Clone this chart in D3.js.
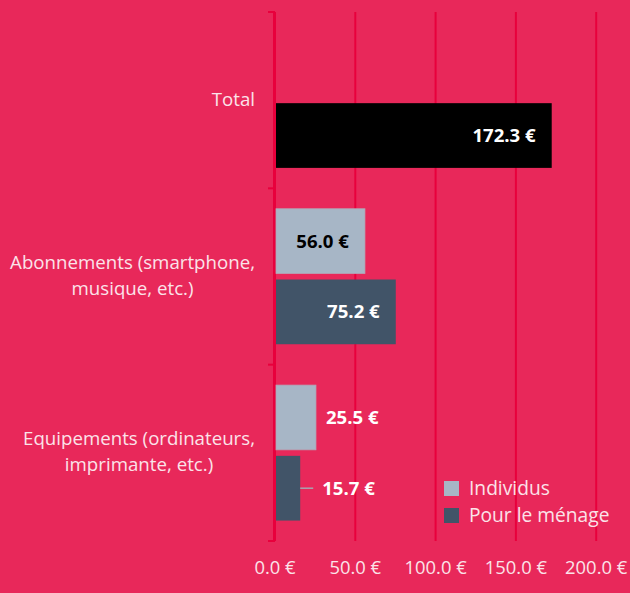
<!DOCTYPE html>
<html><head><meta charset="utf-8">
<script src="https://cdn.jsdelivr.net/npm/d3@7"></script>
<style>
html,body{margin:0;padding:0;background:#E8285A;}
svg{display:block;font-family:"Open Sans",sans-serif;}
</style></head>
<body>
<svg id="chart" width="630" height="593"></svg>
<script>
const categories = ["Total", "Abonnements (smartphone,|musique, etc.)", "Equipements (ordinateurs,|imprimante, etc.)"];
const seriesNames = ["Individus", "Pour le ménage"];
const individus = [null, 56.0, 25.5];
const menage = [null, 75.2, 15.7];
const totalValues = [172.3, null, null];
const xTicks = [0, 50, 100, 150, 200];

const W = 630, H = 593;
const bg = "#E8285A", gridColor = "#E8003C", textColor = "#FBE3E9";
const colors = {"Individus": "#A7B6C6", "Pour le ménage": "#415468", "Total": "#000000"};

const svg = d3.select("#chart");
const x = d3.scaleLinear().domain([0, 200]).range([275, 596.2]);
const y0 = d3.scaleBand().domain(categories).range([12, 541]).padding(0);
const y1 = d3.scaleBand().domain(seriesNames).range([0, y0.bandwidth()]).paddingInner(0.085).paddingOuter(0.289);

// gridlines
svg.append("g").selectAll("line").data(xTicks).join("line")
  .attr("x1", d => x(d)).attr("x2", d => x(d))
  .attr("y1", 12).attr("y2", 541)
  .attr("stroke", gridColor).attr("stroke-width", 2);

// x tick labels
svg.append("g").selectAll("text").data(xTicks).join("text")
  .attr("x", d => x(d)).attr("y", 574)
  .attr("text-anchor", "middle")
  .attr("fill", textColor).attr("font-size", 18.4)
  .text(d => d3.format(".1f")(d) + " €");

// left axis
const axisG = svg.append("g");
axisG.append("line").attr("x1", 274).attr("x2", 274).attr("y1", 12).attr("y2", 541)
  .attr("stroke", gridColor).attr("stroke-width", 2);
const bounds = categories.map(c => y0(c)).concat([y0.range()[1]]);
axisG.selectAll("line.tick").data(bounds).join("line").attr("class", "tick")
  .attr("x1", 268).attr("x2", 275).attr("y1", d => d).attr("y2", d => d)
  .attr("stroke", gridColor).attr("stroke-width", 2);

// category labels
categories.forEach(c => {
  const lines = c.split("|");
  const cy = y0(c) + y0.bandwidth() / 2 - 1;
  const lh = 26;
  const g = svg.append("g");
  const texts = lines.map((l, i) => g.append("text")
    .attr("y", cy + (i - (lines.length - 1) / 2) * lh + 6.5)
    .attr("fill", textColor).attr("font-size", 18.7)
    .attr("text-anchor", "middle").text(l));
  const maxW = d3.max(texts, t => t.node().getComputedTextLength());
  texts.forEach(t => t.attr("x", 255 - maxW / 2));
});

// bars
const barData = [];
categories.forEach((c, i) => {
  if (totalValues[i] != null) barData.push({cat: c, slot: "Pour le ménage", series: "Total", v: totalValues[i]});
  if (individus[i] != null) barData.push({cat: c, slot: "Individus", series: "Individus", v: individus[i]});
  if (menage[i] != null) barData.push({cat: c, slot: "Pour le ménage", series: "Pour le ménage", v: menage[i]});
});

svg.append("g").selectAll("rect").data(barData).join("rect")
  .attr("x", x(0) + 1)
  .attr("y", d => y0(d.cat) + y1(d.slot))
  .attr("width", d => x(d.v) - x(0) - 1)
  .attr("height", y1.bandwidth())
  .attr("fill", d => colors[d.series])
  .attr("stroke", d => d.series === "Individus" ? "#B3A6B6" : "none")
  .attr("stroke-width", 0.8);

// value labels
const lg = svg.append("g");
barData.forEach(d => {
  const cy = y0(d.cat) + y1(d.slot) + y1.bandwidth() / 2;
  const inside = d.v > 40;
  let tx, anchor = "end";
  if (inside) {
    tx = x(d.v) - 16;
  } else {
    anchor = "start";
    if (d.v < 20) {
      lg.append("line").attr("x1", x(d.v)).attr("x2", x(d.v) + 13)
        .attr("y1", cy).attr("y2", cy)
        .attr("stroke", "#A7A3B0").attr("stroke-width", 1.5);
      tx = x(d.v) + 22;
    } else {
      tx = x(d.v) + 10;
    }
  }
  lg.append("text").attr("x", tx).attr("y", cy + 6.5)
    .attr("text-anchor", anchor)
    .attr("font-size", 18.6).attr("font-weight", "bold")
    .attr("fill", d.series === "Individus" && inside ? "#000" : "#fff")
    .text(d3.format(".1f")(d.v) + " €");
});

// legend
const leg = svg.append("g");
seriesNames.forEach((s, i) => {
  const yy = 481 + i * 27;
  leg.append("rect").attr("x", 444).attr("y", yy).attr("width", 15).attr("height", 15).attr("fill", colors[s]);
  leg.append("text").attr("x", 469).attr("y", yy + 14).attr("font-size", 19.2)
    .attr("fill", textColor).text(s);
});
</script>
</body></html>
